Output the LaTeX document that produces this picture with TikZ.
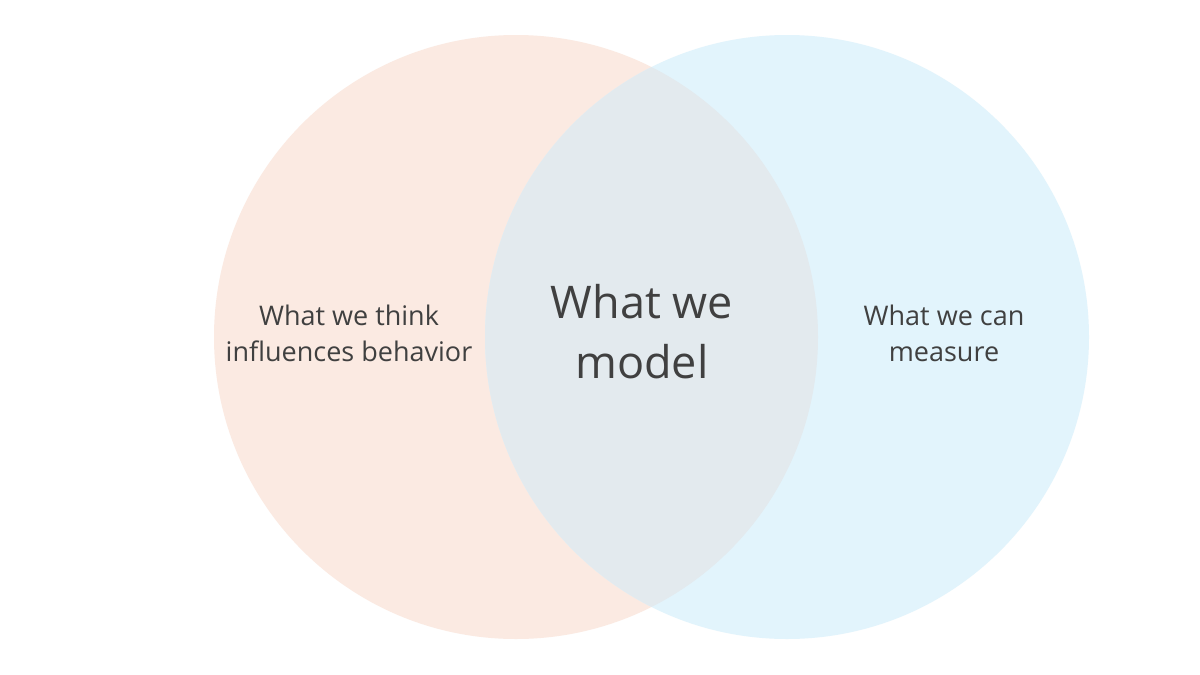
\documentclass[tikz,border=0pt]{standalone}
\usepackage{fontspec}
\setmainfont{Open Sans}
\definecolor{peach}{HTML}{FBEAE2}
\definecolor{sky}{HTML}{E2F4FC}
\definecolor{mix}{HTML}{E3EAEE}
\definecolor{ink}{HTML}{404040}
\begin{document}
\begin{tikzpicture}[x=1pt,y=-1pt,
  small/.style={text=ink,align=center,font=\fontsize{27}{36}\selectfont},
  big/.style={text=ink,align=center,font=\fontsize{45}{60}\selectfont}]
\useasboundingbox[fill=white] (0,0) rectangle (1200,675);
\fill[peach] (516,337) circle (302);
\fill[sky] (787,337) circle (302);
\begin{scope}
\clip (516,337) circle (302);
\fill[mix] (787,337) circle (302);
\end{scope}
\node[small] (l) at (349,333) {What we think\\influences behavior};
\node[big] (c) at (642,332) {What we\\model};
\node[small] (r) at (944,333) {What we can\\measure};
\end{tikzpicture}
\end{document}
